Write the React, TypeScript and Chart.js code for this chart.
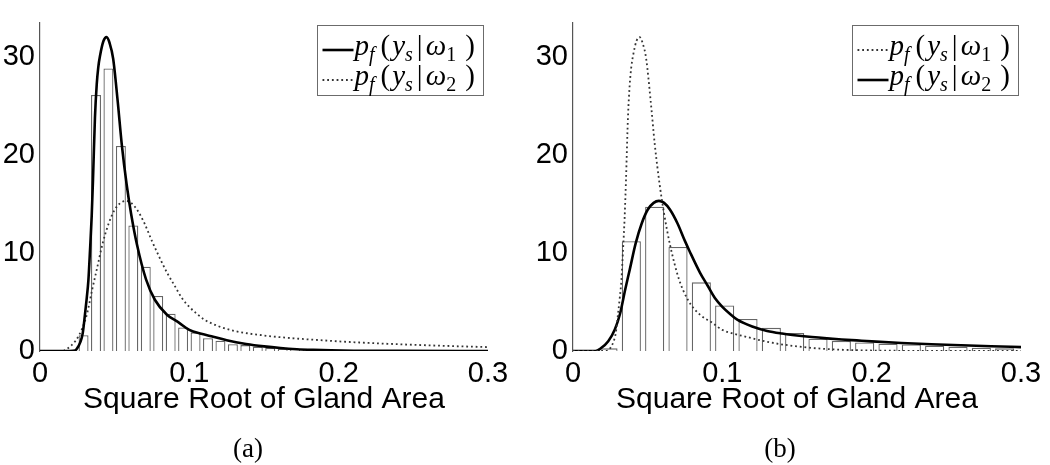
import React, { useEffect, useRef } from "react";
import { Chart, registerables } from "chart.js";

Chart.register(...registerables);

// ---------------- axes ----------------
const xTicks = [0, 0.1, 0.2, 0.3];
const yTicks = [0, 10, 20, 30];
const xMax = 0.3;
const yMax = 33.5;
const xTitle = "Square Root of Gland Area";

// ---------------- fitted density p_f(y_s|ω1) ----------------
const omega1X = [0, 0.02, 0.0235, 0.025, 0.027, 0.0286, 0.0301, 0.0313, 0.0324, 0.0335, 0.0346, 0.0355, 0.0368, 0.038, 0.039, 0.0402, 0.0425, 0.0446, 0.0466, 0.049, 0.052, 0.0548, 0.058, 0.061, 0.065, 0.071, 0.077, 0.085, 0.093, 0.1, 0.108, 0.116, 0.125, 0.138, 0.15, 0.161, 0.172, 0.183, 0.195, 0.21, 0.24, 0.3];
const omega1Y = [0, 0, 0.05, 0.3, 0.9, 1.8, 3.7, 5.4, 7.2, 10.3, 13.7, 17.5, 23.8, 27.2, 28.9, 30.1, 31.6, 32.0, 31.4, 29.8, 25.5, 21.0, 17.0, 14.0, 10.8, 7.3, 5.2, 3.7, 2.9, 2.15, 1.75, 1.45, 1.1, 0.72, 0.47, 0.3, 0.18, 0.11, 0.06, 0.03, 0.01, 0];

// ---------------- fitted density p_f(y_s|ω2) ----------------
const omega2X = [0, 0.015, 0.018, 0.0236, 0.028, 0.0315, 0.035, 0.038, 0.042, 0.046, 0.05, 0.054, 0.0575, 0.061, 0.065, 0.07, 0.075, 0.078, 0.085, 0.09, 0.095, 0.1, 0.105, 0.11, 0.12, 0.13, 0.14, 0.15, 0.16, 0.17, 0.18, 0.19, 0.2, 0.22, 0.24, 0.26, 0.28, 0.3];
const omega2Y = [0, 0, 0.2, 1.0, 2.2, 3.8, 6.3, 8.3, 11.0, 13.0, 14.4, 15.1, 15.3, 15.1, 14.4, 13.0, 11.2, 10.2, 8.0, 6.7, 5.4, 4.5, 3.8, 3.2, 2.5, 2.05, 1.78, 1.58, 1.42, 1.29, 1.18, 1.08, 0.98, 0.82, 0.69, 0.58, 0.48, 0.4];

// ---------------- histograms ----------------
const histABinWidth = 1 / 120;
const histAValues = [0, 0, 0, 1.6, 26.1, 28.8, 20.9, 12.8, 8.6, 5.6, 3.8, 2.4, 1.9, 1.3, 1.05, 0.7, 0.6, 0.45, 0.3, 0.22, 0.18, 0.12, 0.08, 0.05, 0.04, 0.03, 0.02, 0.02, 0.01, 0.01];
const histBBinWidth = 1 / 64;
const histBValues = [0, 0.27, 11.2, 14.7, 10.6, 7.0, 4.65, 3.26, 2.36, 1.83, 1.25, 1.03, 0.87, 0.75, 0.67, 0.53, 0.43, 0.33, 0.27];

const legendLabels = ["p_f(y_s|ω_1)", "p_f(y_s|ω_2)"];
const captions = ["(a)", "(b)"];

// ---------------- helpers ----------------
const toPoints = (xs: number[], ys: number[]) => xs.map((x, i) => ({ x, y: ys[i] }));
const binPoints = (vals: number[], w: number) => vals.map((v, k) => ({ x: (k + 0.5) * w, y: v }));

const SOLID = { borderColor: "#000000", borderWidth: 2.6, borderDash: [] as number[] };
const DOTTED = { borderColor: "#333333", borderWidth: 1.8, borderDash: [1.8, 2.9] };

function drawMath(ctx: CanvasRenderingContext2D, text: string, x: number, baseline: number) {
  const main = 29;
  const sub = 20;
  const gaps: Record<string, [number, number]> = { "(": [6, 2], "|": [4, 3], ")": [9, 0] };
  let cx = x;
  for (let i = 0; i < text.length; i++) {
    let ch = text[i];
    let isSub = false;
    if (ch === "_") {
      isSub = true;
      i++;
      ch = text[i];
    }
    const italic = /[A-Za-z\u03B1-\u03C9]/.test(ch);
    const size = isSub ? sub : main;
    const g = gaps[ch] || [0, 0];
    cx += g[0];
    ctx.font = `${italic ? "italic " : ""}${size}px "Liberation Serif"`;
    ctx.fillText(ch, cx, baseline + (isSub ? 6 : 0));
    cx += ctx.measureText(ch).width + g[1];
  }
}

const mathLegend = {
  id: "mathLegend",
  afterDraw(chart: any, _args: any, opts: any) {
    const ctx: CanvasRenderingContext2D = chart.ctx;
    const area = chart.chartArea;
    const w = opts.width;
    const h = opts.height;
    const bx = Math.round(area.right - opts.inset - w) + 0.5;
    const by = Math.round(area.top + 3) + 0.5;
    ctx.save();
    ctx.fillStyle = "#ffffff";
    ctx.fillRect(bx, by, w, h);
    ctx.strokeStyle = "#6b6b6b";
    ctx.lineWidth = 1;
    ctx.setLineDash([]);
    ctx.strokeRect(bx, by, w, h);
    const lines = chart.data.datasets.filter((d: any) => d.type === "line");
    lines.forEach((ds: any, i: number) => {
      const cy = by + 24.5 + i * 30;
      ctx.beginPath();
      ctx.setLineDash(ds.borderDash || []);
      ctx.strokeStyle = ds.borderColor;
      ctx.lineWidth = ds.borderWidth;
      ctx.moveTo(bx + 5, cy);
      ctx.lineTo(bx + 36, cy);
      ctx.stroke();
      ctx.setLineDash([]);
      ctx.fillStyle = "#000000";
      ctx.textBaseline = "alphabetic";
      ctx.textAlign = "left";
      drawMath(ctx, ds.label, bx + 37, cy + 5);
    });
    ctx.restore();
  },
};

type PanelProps = {
  left: number;
  axisWidth: number;
  rightPad: number;
  hist: number[];
  binWidth: number;
  barPct: number;
  solidIndex: number;
  legendInset: number;
  caption: string;
  captionX: number;
};

function Panel(p: PanelProps) {
  const ref = useRef<HTMLCanvasElement | null>(null);
  useEffect(() => {
    if (!ref.current) return;
    const style1 = p.solidIndex === 0 ? SOLID : DOTTED;
    const style2 = p.solidIndex === 1 ? SOLID : DOTTED;
    const tickFont = { family: '"Liberation Sans", Arial, sans-serif', size: 29 };
    const chart = new Chart(ref.current, {
      type: "line",
      data: {
        datasets: [
          {
            type: "line",
            label: legendLabels[0],
            data: toPoints(omega1X, omega1Y),
            ...style1,
            pointRadius: 0,
            cubicInterpolationMode: "monotone",
            fill: false,
            order: 1,
          } as any,
          {
            type: "line",
            label: legendLabels[1],
            data: toPoints(omega2X, omega2Y),
            ...style2,
            pointRadius: 0,
            cubicInterpolationMode: "monotone",
            fill: false,
            order: 2,
          } as any,
          {
            type: "bar",
            label: "histogram",
            data: binPoints(p.hist, p.binWidth),
            backgroundColor: "#ffffff",
            borderColor: "#666666",
            borderWidth: 1.3,
            barPercentage: p.barPct,
            categoryPercentage: 1,
            order: 3,
          } as any,
        ],
      },
      options: {
        responsive: false,
        animation: false,
        events: [],
        layout: { padding: { top: 15, right: p.rightPad, left: 0, bottom: 0 } },
        plugins: {
          legend: { display: false },
          tooltip: { enabled: false },
          mathLegend: { width: 166, height: 70, inset: p.legendInset },
        } as any,
        scales: {
          x: {
            type: "linear",
            min: 0,
            max: xMax,
            offset: false,
            afterBuildTicks: (s: any) => {
              s.ticks = xTicks.map((v) => ({ value: v }));
            },
            afterFit: (s: any) => {
              s.height = 114;
            },
            ticks: {
              font: tickFont,
              color: "#000000",
              padding: 6,
              maxRotation: 0,
              autoSkip: false,
              callback: (v: any) => String(Number(Number(v).toFixed(2))),
            },
            grid: { display: false, drawTicks: false, offset: false },
            border: { display: false },
            title: {
              display: true,
              text: xTitle,
              color: "#000000",
              font: { family: '"Liberation Sans", Arial, sans-serif', size: 30 },
              padding: { top: 0, bottom: 47 },
            },
          },
          y: {
            type: "linear",
            min: 0,
            max: yMax,
            afterBuildTicks: (s: any) => {
              s.ticks = yTicks.map((v) => ({ value: v }));
            },
            afterFit: (s: any) => {
              s.width = p.axisWidth;
            },
            ticks: {
              font: tickFont,
              color: "#000000",
              padding: 5,
              autoSkip: false,
            },
            grid: { display: false, drawTicks: false },
            border: { display: true, color: "#555555", width: 1.2 },
          },
        },
      },
      plugins: [mathLegend as any],
    });
    return () => chart.destroy();
  }, []);
  return (
    <div style={{ position: "absolute", left: p.left, top: 0, width: 525, height: 465 }}>
      <canvas ref={ref} width={525} height={465} style={{ display: "block" }} />
      <div
        style={{
          position: "absolute",
          left: p.captionX - p.left - 50,
          top: 433,
          width: 100,
          textAlign: "center",
          fontFamily: '"Liberation Serif", serif',
          fontSize: 27,
          lineHeight: "30px",
          color: "#000",
        }}
      >
        {p.caption}
      </div>
    </div>
  );
}

export default function App() {
  return (
    <div style={{ position: "absolute", left: 0, top: 0, width: 1050, height: 465, background: "#fff", overflow: "hidden" }}>
      <Panel
        left={0}
        axisWidth={40}
        rightPad={37}
        hist={histAValues}
        binWidth={histABinWidth}
        barPct={0.8}
        solidIndex={0}
        legendInset={5}
        caption={captions[0]}
        captionX={248}
      />
      <Panel
        left={525}
        axisWidth={48}
        rightPad={29}
        hist={histBValues}
        binWidth={histBBinWidth}
        barPct={0.82}
        solidIndex={1}
        legendInset={3}
        caption={captions[1]}
        captionX={780}
      />
    </div>
  );
}
